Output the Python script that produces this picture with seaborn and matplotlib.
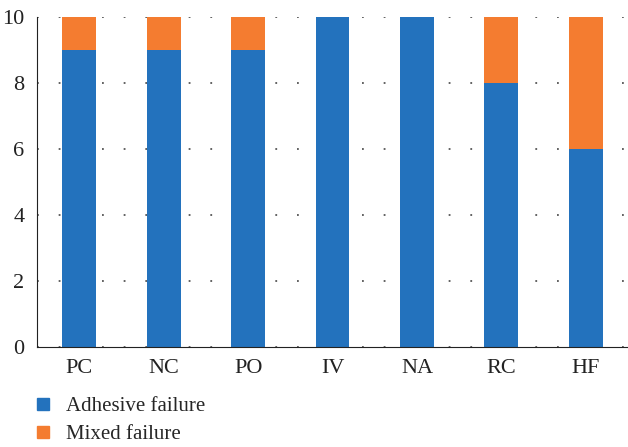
import numpy as np
import pandas as pd
import seaborn as sns
import matplotlib.pyplot as plt
from matplotlib.lines import Line2D

groups = ['PC', 'NC', 'PO', 'IV', 'NA', 'RC', 'HF']
adhesive = [9, 9, 9, 10, 10, 8, 6]
mixed = [1, 1, 1, 0, 0, 2, 4]

blue = '#2372BD'
orange = '#F47C30'

df = pd.DataFrame({'group': groups, 'adhesive': adhesive, 'mixed': mixed})
df['total'] = df['adhesive'] + df['mixed']

sns.set_style('white')
plt.rcParams['font.family'] = ['Liberation Serif', 'DejaVu Serif']

fig = plt.figure(figsize=(6.28, 4.47), dpi=100)
ax = fig.add_axes([0.059, 0.224, 0.941, 0.738])

sns.barplot(data=df, x='group', y='total', color=orange, saturation=1, width=0.4,
            linewidth=0, ax=ax)
sns.barplot(data=df, x='group', y='adhesive', color=blue, saturation=1, width=0.4,
            linewidth=0, ax=ax)

ax.set_xlim(-0.5, 6.5)
ax.set_ylim(0, 10)
ax.set_yticks([0, 2, 4, 6, 8, 10])
ax.set_xlabel('')
ax.set_ylabel('')
ax.yaxis.grid(True, linestyle=(0, (1, 11)), color='#555555', linewidth=1.3)
ax.set_axisbelow(True)
sns.despine(ax=ax, top=True, right=True)
ax.spines['left'].set_color('#222222')
ax.spines['bottom'].set_color('#222222')
ax.tick_params(axis='both', length=0, labelsize=16, colors='#222222', pad=9)

handles = [Line2D([], [], marker='s', linestyle='', color=blue, markersize=9),
           Line2D([], [], marker='s', linestyle='', color=orange, markersize=9)]
fig.legend(handles, ['Adhesive failure', 'Mixed failure'], loc='lower left',
           bbox_to_anchor=(0.022, -0.036), frameon=False, fontsize=15,
           handletextpad=0.6, labelspacing=0.4, handlelength=1.0)

fig.savefig('out.png', dpi=100)
